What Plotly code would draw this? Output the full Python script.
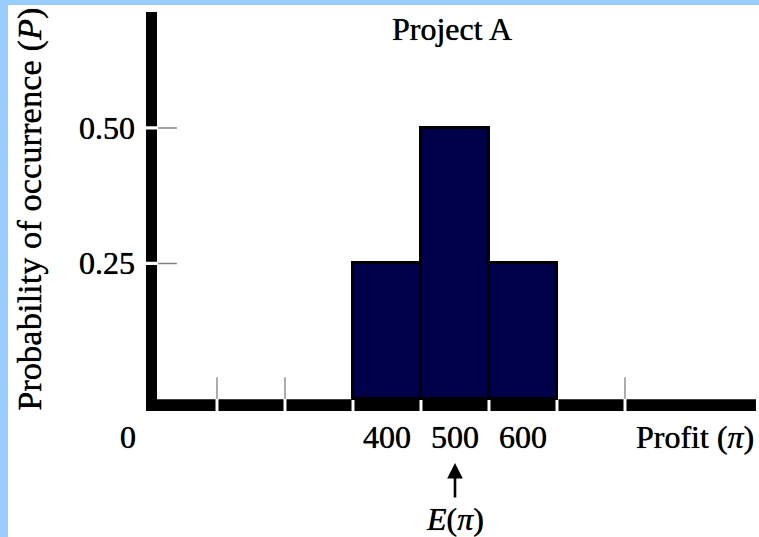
import plotly.graph_objects as go

# ---- data ----
profits = [400, 500, 600]
probs = [0.25, 0.50, 0.25]
y_tick_vals = [0.25, 0.50]
y_tick_text = ["0.25", "0.50"]
x_tick_text = ["400", "500", "600"]
x_marks = [150, 250, 750]          # small gray ticks above the axis
x_gaps = [150, 250, 350, 450, 550, 650, 750]
expected = 500
y_title = "Probability of " + "occu" + "rrence" + " (<i>P</i>)"

FONT = "Liberation Serif, Times New Roman, serif"
FS = 32
NAVY = "#00004a"
SH = "0px 0px 0.7px black"

def f(size=FS):
    return dict(family=FONT, size=size, color="black", shadow=SH)

fig = go.Figure()
fig.add_trace(go.Bar(
    x=profits, y=probs, width=100,
    marker=dict(color=NAVY, line=dict(color="black", width=3)),
    hoverinfo="skip",
))

shapes = []
# y axis (thick) with small gaps at ticks
y_top, y_bot = 0.714, -0.0221
ax_x0, ax_x1 = 45.6, 61.8
cuts = sorted(y_tick_vals)
segs = []
lo = y_bot
for c in cuts:
    segs.append((lo, c - 0.003))
    lo = c + 0.003
segs.append((lo, y_top))
for a, b in segs:
    shapes.append(dict(type="rect", xref="x", yref="y", x0=ax_x0, x1=ax_x1, y0=a, y1=b,
                       fillcolor="black", line=dict(width=0), layer="above"))
# y ticks (thin gray to the right of the axis)
for v in y_tick_vals:
    shapes.append(dict(type="line", xref="x", yref="y", x0=63.5, x1=91, y0=v, y1=v,
                       line=dict(color="#808080", width=1.5)))
# x axis (thick) with gaps
xa0, xa1 = ax_x0, 942.6
lo = xa0
for g in x_gaps:
    shapes.append(dict(type="rect", xref="x", yref="y", x0=lo, x1=g - 2.2, y0=-0.0221, y1=-0.0005,
                       fillcolor="black", line=dict(width=0), layer="above"))
    lo = g + 2.2
shapes.append(dict(type="rect", xref="x", yref="y", x0=lo, x1=xa1, y0=-0.0221, y1=-0.0005,
                   fillcolor="black", line=dict(width=0), layer="above"))
# small gray marks above x axis
for m in x_marks:
    shapes.append(dict(type="line", xref="x", yref="y", x0=m, x1=m, y0=0, y1=0.04,
                       line=dict(color="#909090", width=1.5)))

ann = []
ann.append(dict(text="Project A", x=495.6, y=0.683, xref="x", yref="y", showarrow=False, font=f()))
for v, t in zip(y_tick_vals, y_tick_text):
    ann.append(dict(text=t, x=33, y=v, xref="x", yref="y", xanchor="right", showarrow=False, font=f()))
for v, t in zip(profits, x_tick_text):
    ann.append(dict(text=t, x=v, y=-0.0701, xref="x", yref="y", showarrow=False, font=f()))
ann.append(dict(text="0", x=19, y=-0.0701, xref="x", yref="y", showarrow=False, font=f()))
ann.append(dict(text="Profit (<i>π</i>)", x=853, y=-0.0701, xref="x", yref="y", showarrow=False, font=f()))
ann.append(dict(text=y_title, x=-125, y=0.349, xref="x", yref="y",
                textangle=-90, showarrow=False, font=f(34.5)))
ann.append(dict(text="", x=expected, y=-0.118, xref="x", yref="y", showarrow=True,
                ax=0, ay=36, arrowhead=2, arrowsize=1.2, arrowwidth=2.6, arrowcolor="black"))
ann.append(dict(text="<i>E</i>(<i>π</i>)", x=expected, y=-0.2214, xref="x", yref="y", showarrow=False, font=f()))

fig.update_layout(
    width=759, height=537,
    margin=dict(l=8, r=0, t=5, b=0),
    paper_bgcolor="#99ccff",
    plot_bgcolor="white",
    showlegend=False,
    xaxis=dict(range=[-157.35, 947.06], visible=False, fixedrange=True),
    yaxis=dict(range=[-0.2546, 0.7269], visible=False, fixedrange=True),
    shapes=shapes,
    annotations=ann,
    bargap=0,
)

fig.write_html("out.html")
